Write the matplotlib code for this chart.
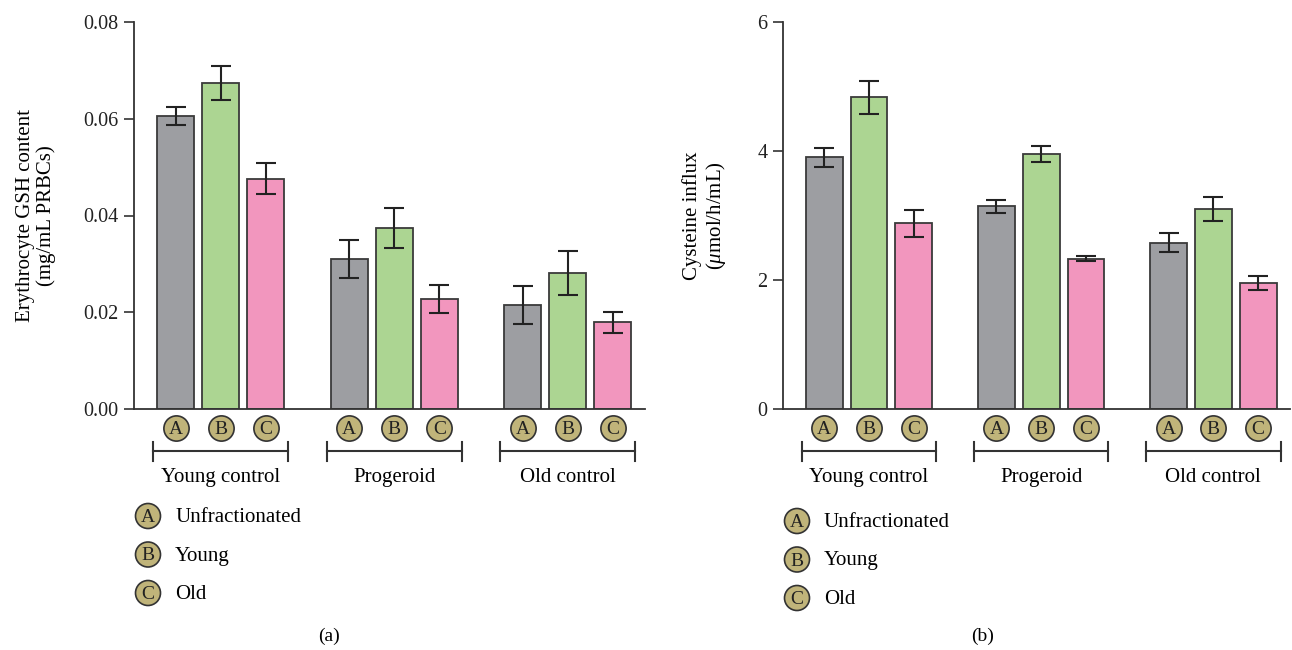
import numpy as np
import matplotlib
matplotlib.use("Agg")
import matplotlib.pyplot as plt
import matplotlib.transforms as mtransforms
from matplotlib.patches import Ellipse

plt.rcParams['font.family'] = ['Liberation Serif', 'DejaVu Serif']
plt.rcParams['mathtext.fontset'] = 'custom'
plt.rcParams['mathtext.rm'] = 'Liberation Serif'
plt.rcParams['mathtext.it'] = 'Liberation Serif:italic'

groups = ['Young control', 'Progeroid', 'Old control']
fractions = ['A', 'B', 'C']
fraction_names = ['Unfractionated', 'Young', 'Old']

# GSH content, rows = group, cols = fraction
gsh_mean = [[0.0606, 0.0674, 0.0476],
            [0.0310, 0.0374, 0.0227],
            [0.0215, 0.0281, 0.0179]]
gsh_err = [[0.0019, 0.0036, 0.0032],
           [0.0040, 0.0042, 0.0029],
           [0.0040, 0.0046, 0.0021]]

# cysteine influx
cys_mean = [[3.90, 4.83, 2.88],
            [3.14, 3.95, 2.33],
            [2.58, 3.10, 1.95]]
cys_err = [[0.15, 0.26, 0.21],
           [0.10, 0.12, 0.04],
           [0.15, 0.19, 0.11]]

colors = ['#9d9ea2', '#acd592', '#f296be']
circ_color = '#c0b47a'
edge = '#3a3a3a'

W, H = 1292, 650
fig = plt.figure(figsize=(W / 100, H / 100), dpi=100)

gap = 173 / 45.0


def fy(px):
    return 1 - px / H


def fx(px):
    return px / W


def draw_panel(left, right, means, errs, ylim, yticks, ytl, ylabel, ylab_x, panel, panel_x, legend_y):
    ax = fig.add_axes([fx(left), fy(409), fx(right - left), (409 - 22) / H])
    for g in range(3):
        for k in range(3):
            x = g * gap + k
            ax.bar(x, means[g][k], width=37 / 45, color=colors[k], edgecolor=edge, linewidth=1.3, zorder=2)
            ax.errorbar(x, means[g][k], yerr=errs[g][k], color='#222222', elinewidth=1.5,
                        capsize=7, capthick=1.5, zorder=3)
    ax.set_xlim(-0.92, 10.4)
    ax.set_ylim(*ylim)
    ax.set_yticks(yticks)
    ax.set_yticklabels(ytl, fontsize=14.5)
    ax.set_xticks([])
    for s in ['top', 'right']:
        ax.spines[s].set_visible(False)
    ax.spines['left'].set_linewidth(1.3)
    ax.spines['bottom'].set_linewidth(1.3)
    ax.spines['left'].set_color('#333333')
    ax.spines['bottom'].set_color('#333333')
    ax.tick_params(axis='y', direction='out', length=7, width=1.2, colors='#333333', pad=4)
    for t in ax.get_yticklabels():
        t.set_color('#222222')

    fig.text(fx(ylab_x), fy(216), ylabel, rotation=90, ha='center', va='center',
             fontsize=15, linespacing=1.1)

    tr = mtransforms.blended_transform_factory(ax.transData, fig.transFigure)
    for g in range(3):
        for k in range(3):
            x = g * gap + k
            ax.scatter([x], [fy(428)], s=330, color=circ_color, edgecolor='#333333', linewidth=1.2,
                       transform=tr, clip_on=False, zorder=4)
            ax.text(x, fy(429.5), fractions[k], transform=tr, ha='center', va='center',
                    fontsize=14, color='#222222', zorder=5)
        x0 = g * gap - 0.5
        x1 = g * gap + 2.5
        ax.plot([x0, x1], [fy(451), fy(451)], color='#333333', lw=1.5, transform=tr, clip_on=False)
        for xe in (x0, x1):
            ax.plot([xe, xe], [fy(442), fy(461)], color='#333333', lw=1.5, transform=tr, clip_on=False)
        ax.text(g * gap + 1, fy(482), groups[g], transform=tr, ha='center', va='baseline', fontsize=15)

    for i in range(3):
        cx = legend_y[0]
        cy = legend_y[1] + i * legend_y[2]
        fig.patches.append(Ellipse((fx(cx), fy(cy)), 25 / W, 25 / H, transform=fig.transFigure,
                                   facecolor=circ_color, edgecolor='#333333', linewidth=1.2))
        fig.text(fx(cx), fy(cy + 1.5), fractions[i], ha='center', va='center', fontsize=14,
                 color='#222222')
        fig.text(fx(cx + 27), fy(cy + 6), fraction_names[i], ha='left', va='baseline', fontsize=15)

    fig.text(fx(panel_x), fy(641), panel, ha='center', va='baseline', fontsize=14)
    return ax


draw_panel(134, 645, gsh_mean, gsh_err, (0, 0.08), [0, 0.02, 0.04, 0.06, 0.08],
           ['0.00', '0.02', '0.04', '0.06', '0.08'],
           'Erythrocyte GSH content\n(mg/mL PRBCs)', 36, '(a)', 329, (148, 516, 38.5))
draw_panel(783, 1290, cys_mean, cys_err, (0, 6), [0, 2, 4, 6], ['0', '2', '4', '6'],
           'Cysteine influx\n($\\mu$mol/h/mL)', 705, '(b)', 983, (797, 521, 38.5))

fig.savefig('out.png', dpi=100, facecolor='white')
